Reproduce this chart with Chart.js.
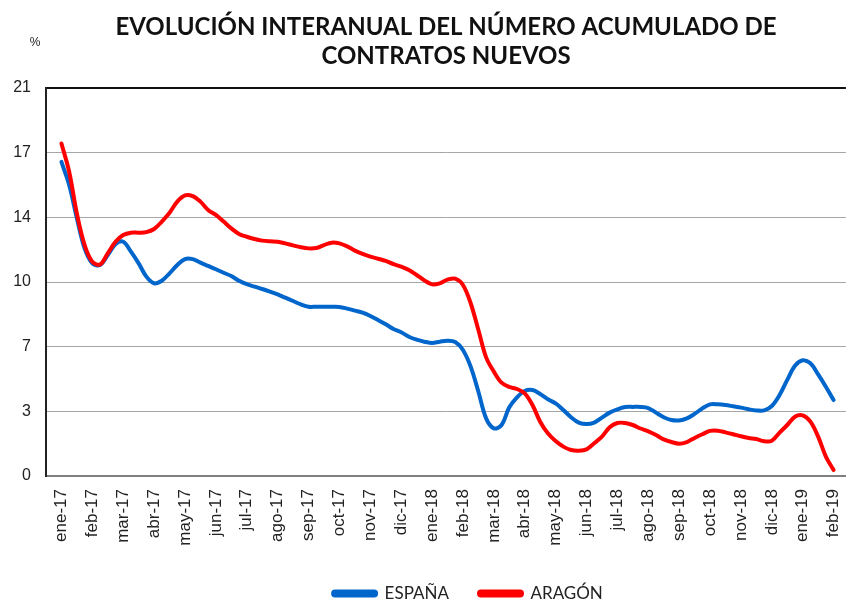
<!DOCTYPE html>
<html><head><meta charset="utf-8">
<script src="https://cdn.jsdelivr.net/npm/chart.js@4.4.1/dist/chart.umd.min.js"></script>
<style>html,body{margin:0;padding:0;background:#fff;}#wrap{width:867px;height:602px;}</style>
</head><body><div id="wrap"><canvas id="c" width="867" height="602"></canvas></div>
<script>
const titleLines = ["EVOLUCIÓN INTERANUAL DEL NÚMERO ACUMULADO DE", "CONTRATOS NUEVOS"];
const unitLabel = "%";
const monthLabels = ["ene-17","feb-17","mar-17","abr-17","may-17","jun-17","jul-17","ago-17","sep-17","oct-17","nov-17","dic-17",
  "ene-18","feb-18","mar-18","abr-18","may-18","jun-18","jul-18","ago-18","sep-18","oct-18","nov-18","dic-18","ene-19","feb-19"];
const seriesNames = ["ESPAÑA", "ARAGÓN"];
const pointsPerMonth = 4;
// values every quarter month, ene-17 .. feb-19
const espana = [
  17.0, 15.75, 13.95, 12.32,
  11.51, 11.42, 11.96, 12.54,
  12.68, 12.14, 11.51, 10.79,
  10.43, 10.57, 10.97, 11.42,
  11.74, 11.74, 11.55, 11.37,
  11.19, 11.0, 10.82, 10.57,
  10.38, 10.25, 10.12, 9.98,
  9.83, 9.65, 9.47, 9.29,
  9.16, 9.16, 9.16, 9.16,
  9.15, 9.06, 8.95, 8.84,
  8.66, 8.44, 8.21, 7.96,
  7.78, 7.54, 7.38, 7.27,
  7.2, 7.27, 7.32, 7.25,
  6.82, 5.92, 4.56, 3.12,
  2.58, 2.76, 3.72, 4.26,
  4.6, 4.65, 4.44, 4.15,
  3.93, 3.57, 3.18, 2.89,
  2.81, 2.89, 3.16, 3.43,
  3.61, 3.73, 3.74, 3.74,
  3.68, 3.43, 3.18, 3.03,
  3.01, 3.12, 3.36, 3.66,
  3.88, 3.88, 3.84, 3.77,
  3.7, 3.61, 3.55, 3.55,
  3.79, 4.38, 5.2, 5.97,
  6.26, 6.1, 5.5, 4.83,
  4.11
];
const aragon = [
  18.0, 16.47, 14.2, 12.5,
  11.6, 11.45, 12.05, 12.68,
  13.04, 13.17, 13.17, 13.2,
  13.37, 13.77, 14.25, 14.85,
  15.19, 15.15, 14.85, 14.4,
  14.13, 13.77, 13.4, 13.1,
  12.95, 12.83, 12.74, 12.7,
  12.68, 12.59, 12.48, 12.38,
  12.32, 12.34, 12.5, 12.63,
  12.59, 12.43, 12.2, 12.02,
  11.87, 11.76, 11.64, 11.47,
  11.33, 11.15, 10.88, 10.59,
  10.37, 10.43, 10.63, 10.68,
  10.34, 9.35, 7.9, 6.42,
  5.65, 5.05, 4.82, 4.71,
  4.47, 3.84, 2.94, 2.31,
  1.89, 1.59, 1.41, 1.37,
  1.44, 1.77, 2.13, 2.64,
  2.87, 2.87, 2.76, 2.57,
  2.42, 2.22, 1.98, 1.84,
  1.75, 1.84, 2.06, 2.26,
  2.44, 2.45, 2.36, 2.26,
  2.15, 2.06, 2.0, 1.88,
  1.91, 2.35, 2.76, 3.21,
  3.28, 2.94, 2.13, 1.05,
  0.32
];
const yTicks = [0, 3.5, 7, 10.5, 14, 17.5, 21];

const toPoints = arr => arr.map((v, i) => ({ x: i / pointsPerMonth, y: v }));

const textPlugin = {
  id: 'titleAndUnit',
  afterLayout(chart) {
    // nudge the legend to sit where the original one does
    if (chart.legend) { chart.legend.left += 22; chart.legend.right += 22; }
  },
  afterDraw(chart) {
    const ctx = chart.ctx;
    ctx.save();
    ctx.fillStyle = '#111';
    ctx.textAlign = 'center';
    ctx.textBaseline = 'alphabetic';
    ctx.font = 'bold 24px Lato, "Open Sans", sans-serif';
    ctx.fillText(titleLines[0], 446, 35);
    ctx.fillText(titleLines[1], 446, 64);
    ctx.fillStyle = '#222';
    ctx.font = '12px "Liberation Sans", Arial, sans-serif';
    ctx.textBaseline = 'middle';
    ctx.fillText(unitLabel, 35, 43);
    ctx.restore();
  }
};

new Chart(document.getElementById('c'), {
  type: 'line',
  data: {
    datasets: [
      { label: seriesNames[0], data: toPoints(espana), borderColor: '#0066cc', backgroundColor: '#0066cc',
        borderWidth: 4, pointRadius: 0, tension: 0.35, borderCapStyle: 'round', borderJoinStyle: 'round', order: 1 },
      { label: seriesNames[1], data: toPoints(aragon), borderColor: '#ff0000', backgroundColor: '#ff0000',
        borderWidth: 4, pointRadius: 0, tension: 0.35, borderCapStyle: 'round', borderJoinStyle: 'round', order: 0 }
    ]
  },
  options: {
    responsive: false,
    animation: false,
    devicePixelRatio: 1,
    layout: { padding: { left: 0, right: 1, top: 88, bottom: -10 } },
    plugins: {
      title: { display: false },
      legend: {
        position: 'bottom',
        fullSize: false,
        labels: {
          sort: (a, b) => a.datasetIndex - b.datasetIndex,
          boxWidth: 43, boxHeight: 4, useBorderRadius: true, borderRadius: 2,
          color: '#222', padding: 30,
          font: { family: 'Lato, "Open Sans", sans-serif', size: 17 }
        }
      },
      tooltip: { enabled: false }
    },
    scales: {
      x: {
        type: 'linear', min: -0.5, max: 25.4,
        afterBuildTicks: s => { s.ticks = monthLabels.map((_, i) => ({ value: i })); },
        afterFit: s => { s.height = 79; },
        grid: { display: false, drawTicks: false },
        border: { display: true, color: '#7f7f7f', width: 2 },
        ticks: {
          autoSkip: false, minRotation: 90, maxRotation: 90, padding: 13, color: '#222',
          font: { family: '"Liberation Sans", Arial, sans-serif', size: 17 },
          callback: v => monthLabels[v] ?? ''
        }
      },
      y: {
        min: 0, max: 21,
        afterBuildTicks: s => { s.ticks = yTicks.map(v => ({ value: v })); },
        afterFit: s => { s.width = 46; },
        grid: {
          drawTicks: false,
          color: c => (c.tick && c.tick.value === 21) ? '#111' : (c.tick && c.tick.value === 0 ? '#7f7f7f' : '#a6a6a6'),
          lineWidth: c => (c.tick && (c.tick.value === 21 || c.tick.value === 0)) ? 2 : 1
        },
        border: { display: true, color: '#222', width: 2 },
        ticks: {
          padding: 15, color: '#222',
          font: { family: '"Liberation Sans", Arial, sans-serif', size: 16 },
          callback: v => String(Math.floor(v))
        }
      }
    }
  },
  plugins: [textPlugin]
});
</script>
</body></html>
